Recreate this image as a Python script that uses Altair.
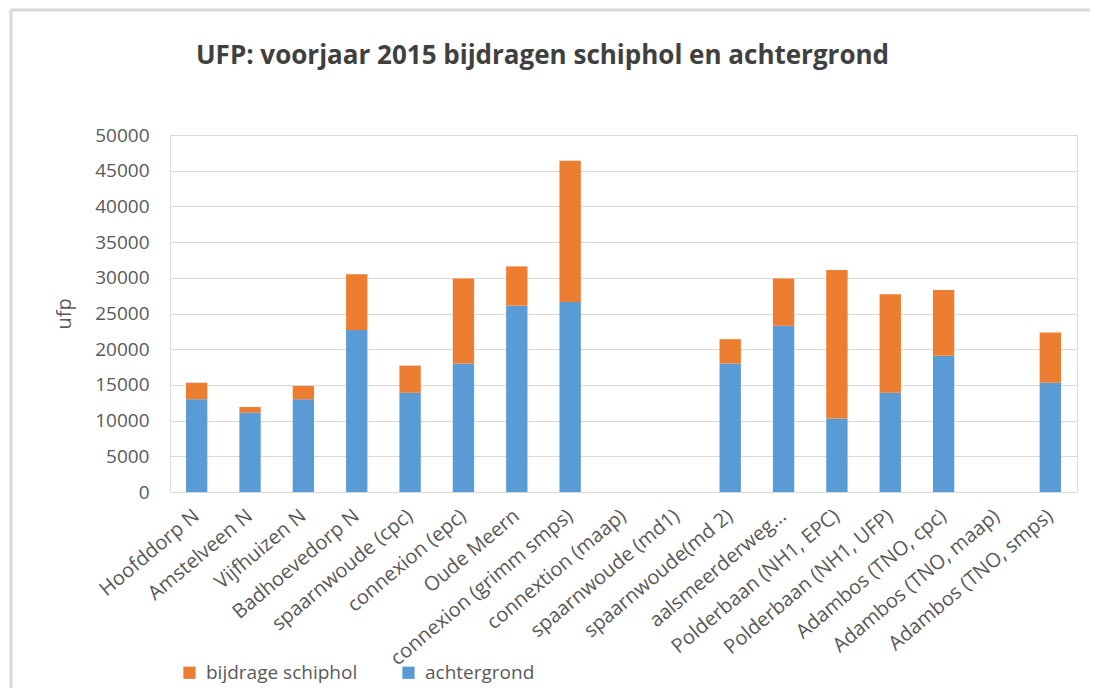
import altair as alt
import pandas as pd

categories = [
    "Hoofddorp N", "Amstelveen N", "Vijfhuizen N", "Badhoevedorp N",
    "spaarnwoude (cpc)", "connexion (epc)", "Oude Meern", "connexion (grimm smps)",
    "connextion (maap)", "spaarnwoude (md1)", "spaarnwoude(md 2)", "aalsmeerderweg...",
    "Polderbaan (NH1, EPC)", "Polderbaan (NH1, UFP)", "Adambos (TNO, cpc)",
    "Adambos (TNO, maap)", "Adambos (TNO, smps)",
]
achtergrond = [13000, 11100, 13000, 22700, 13900, 18000, 26100, 26600,
               None, None, 18000, 23300, 10300, 13900, 19100, None, 15300]
bijdrage_schiphol = [2300, 800, 1850, 7800, 3800, 11900, 5500, 19800,
                     None, None, 3400, 6600, 20800, 13800, 9200, None, 7050]
series = ["bijdrage schiphol", "achtergrond"]
colors = ["#ED7D31", "#5B9BD5"]

rows = []
for c, a, b in zip(categories, achtergrond, bijdrage_schiphol):
    if a is not None:
        rows.append({"station": c, "reeks": "achtergrond", "waarde": a, "volgorde": 0})
    if b is not None:
        rows.append({"station": c, "reeks": "bijdrage schiphol", "waarde": b, "volgorde": 1})
df = pd.DataFrame(rows)

FONT = "Open Sans"
GREY = "#595959"

bars = alt.Chart(df).mark_bar().encode(
    x=alt.X("station:N", sort=categories,
            scale=alt.Scale(domain=categories, paddingInner=0.6, paddingOuter=0.3),
            axis=alt.Axis(title=None, labelAngle=-40, labelAlign="right", labelBaseline="middle",
                          labelPadding=21, ticks=False, domainColor="#d9d9d9",
                          labelColor=GREY, labelFontSize=20, labelFont=FONT, labelLimit=400)),
    y=alt.Y("waarde:Q", stack="zero",
            scale=alt.Scale(domain=[0, 50000], nice=False),
            axis=alt.Axis(title="ufp", values=list(range(0, 50001, 5000)), format="d",
                          ticks=False, domain=False, gridColor="#d9d9d9", labelColor=GREY,
                          labelFontSize=19, labelFont=FONT, labelPadding=21,
                          titleColor=GREY, titleFontSize=20, titleFont=FONT,
                          titleFontWeight="normal", titlePadding=20)),
    color=alt.Color("reeks:N", scale=alt.Scale(domain=series, range=colors),
                    legend=alt.Legend(title=None, orient="none", legendX=10, legendY=528,
                                      direction="horizontal", columns=2,
                                      symbolType="square", symbolSize=150, symbolStrokeWidth=0,
                                      labelFontSize=19, labelFont=FONT, labelColor=GREY,
                                      labelOffset=7, columnPadding=41)),
    order=alt.Order("volgorde:Q", sort="ascending"),
)

border_top = alt.Chart(alt.Data(values=[{}])).mark_rule(color="#d9d9d9", strokeWidth=3, clip=False).encode(
    x=alt.value(-159), x2=alt.value(1000), y=alt.value(-125)
)
border_left = alt.Chart(alt.Data(values=[{}])).mark_rule(color="#d9d9d9", strokeWidth=3, clip=False).encode(
    x=alt.value(-159), y=alt.value(-125), y2=alt.value(600)
)

chart = alt.layer(border_top, border_left, bars).properties(
    width=907, height=357,
    title=alt.TitleParams("UFP: voorjaar 2015 bijdragen schiphol en achtergrond",
                          font=FONT, fontSize=26, fontWeight="bold", color="#404040",
                          anchor="middle", dx=-81, offset=-60),
    autosize=alt.AutoSizeParams(type="none"),
    padding={"left": 162, "top": 127, "right": 13, "bottom": 196},
).configure_view(stroke=None).configure(background="white")

chart.save("out.html", embed_options={"renderer": "svg", "actions": False})
